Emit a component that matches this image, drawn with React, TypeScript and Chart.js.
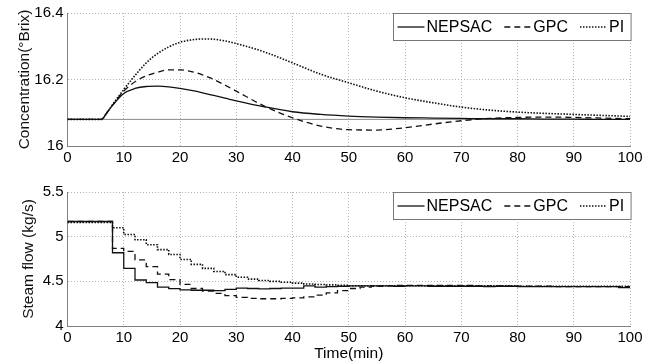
import React, { useEffect, useRef } from "react";
import { Chart, registerables } from "chart.js";

Chart.register(...registerables);

const FONT = '"Liberation Sans", Arial, Helvetica, sans-serif';

const seriesNames = ["NEPSAC", "GPC", "PI"];

// Top panel: concentration (°Brix) vs time (min)
const concTime = [0, 6, 7, 8, 10, 12, 14, 16, 18, 20, 22, 24, 26, 28, 30, 35, 40, 45, 50, 55, 60, 65, 70, 75, 80, 85, 90, 95, 100];
const nepsacConc = [16.08, 16.08, 16.1, 16.122, 16.158, 16.173, 16.179, 16.18, 16.178, 16.173, 16.167, 16.16, 16.152, 16.144, 16.136, 16.118, 16.103, 16.095, 16.09, 16.087, 16.085, 16.084, 16.083, 16.082, 16.082, 16.081, 16.081, 16.08, 16.08];
const gpcConc = [16.08, 16.08, 16.1, 16.123, 16.165, 16.193, 16.211, 16.222, 16.229, 16.229, 16.224, 16.214, 16.2, 16.183, 16.165, 16.12, 16.085, 16.06, 16.049, 16.048, 16.055, 16.066, 16.076, 16.083, 16.086, 16.087, 16.086, 16.084, 16.082];
const piConc = [16.08, 16.08, 16.1, 16.124, 16.17, 16.212, 16.25, 16.278, 16.298, 16.312, 16.319, 16.322, 16.321, 16.316, 16.308, 16.283, 16.25, 16.216, 16.19, 16.165, 16.145, 16.13, 16.117, 16.108, 16.102, 16.098, 16.095, 16.092, 16.089];
const setpointTime = [0, 100];
const setpointConc = [16.08, 16.08];

// Bottom panel: steam flow (kg/s) vs time (min), sampled every 2 min
const flowTime = [0, 2, 4, 6, 8, 10, 12, 14, 16, 18, 20, 22, 24, 26, 28, 30, 32, 34, 36, 38, 40, 42, 44, 46, 48, 50, 52, 54, 56, 58, 60, 62, 64, 66, 68, 70, 72, 74, 76, 78, 80, 82, 84, 86, 88, 90, 92, 94, 96, 98, 100];
const nepsacFlow = [5.17, 5.17, 5.17, 5.17, 4.82, 4.645, 4.515, 4.485, 4.435, 4.418, 4.405, 4.4, 4.4, 4.395, 4.41, 4.425, 4.42, 4.415, 4.42, 4.425, 4.425, 4.45, 4.435, 4.44, 4.445, 4.45, 4.45, 4.45, 4.45, 4.445, 4.45, 4.45, 4.445, 4.445, 4.445, 4.445, 4.445, 4.44, 4.445, 4.445, 4.44, 4.44, 4.44, 4.44, 4.44, 4.44, 4.44, 4.44, 4.44, 4.43, 4.43];
const gpcFlow = [5.17, 5.17, 5.17, 5.17, 4.87, 4.835, 4.74, 4.665, 4.58, 4.52, 4.465, 4.42, 4.39, 4.365, 4.34, 4.32, 4.31, 4.305, 4.305, 4.31, 4.315, 4.325, 4.345, 4.37, 4.395, 4.42, 4.435, 4.445, 4.45, 4.455, 4.455, 4.455, 4.455, 4.455, 4.455, 4.455, 4.45, 4.45, 4.45, 4.445, 4.445, 4.445, 4.445, 4.44, 4.44, 4.44, 4.44, 4.44, 4.44, 4.44, 4.44];
const piFlow = [5.16, 5.16, 5.16, 5.16, 5.1, 5.025, 4.965, 4.91, 4.855, 4.8, 4.745, 4.69, 4.645, 4.61, 4.575, 4.545, 4.525, 4.51, 4.5, 4.49, 4.48, 4.47, 4.465, 4.46, 4.455, 4.45, 4.45, 4.45, 4.45, 4.45, 4.45, 4.45, 4.45, 4.45, 4.45, 4.45, 4.45, 4.45, 4.45, 4.45, 4.445, 4.445, 4.445, 4.445, 4.445, 4.445, 4.445, 4.445, 4.445, 4.445, 4.445];

const xTicksMin = 0;
const xTicksMax = 100;
const xTickStep = 10;
const concTicks = { min: 16, max: 16.4, step: 0.2 };
const flowTicks = { min: 4, max: 5.5, step: 0.5 };

const LINE_COLOR = "#111111";
const styles = [
  { borderDash: [] as number[], borderWidth: 1.3 },
  { borderDash: [6, 4], borderWidth: 1.3 },
  { borderDash: [1.5, 1.5], borderWidth: 1.6 },
];

const toPoints = (xs: number[], ys: number[]) => xs.map((x, i) => ({ x, y: ys[i] }));

const boxedLegend = {
  id: "boxedLegend",
  afterDraw(chart: any) {
    const { ctx, chartArea } = chart;
    const ds = chart.data.datasets.filter((d: any) => seriesNames.includes(d.label));
    ctx.save();
    ctx.font = `16px ${FONT}`;
    const lineLen = 27, gapLT = 2, gapItem = 12, padL = 4, padR = 7, h = 27;
    const widths = ds.map((d: any) => ctx.measureText(d.label).width);
    let total = padL + padR + gapItem * (ds.length - 1);
    widths.forEach((w: number) => (total += lineLen + gapLT + w));
    const x1 = Math.round(chartArea.right + 1 - total) + 0.5;
    const y1 = Math.round(chartArea.top) + 0.5;
    ctx.fillStyle = "#ffffff";
    ctx.fillRect(x1, y1, total, h);
    ctx.strokeStyle = "#777777";
    ctx.lineWidth = 1;
    ctx.setLineDash([]);
    ctx.strokeRect(x1, y1, total, h);
    let x = x1 + padL;
    const yc = y1 + h / 2;
    ds.forEach((d: any, i: number) => {
      ctx.save();
      ctx.strokeStyle = d.borderColor;
      ctx.lineWidth = d.borderWidth;
      ctx.setLineDash(d.borderDash || []);
      ctx.beginPath();
      ctx.moveTo(x, yc);
      ctx.lineTo(x + lineLen, yc);
      ctx.stroke();
      ctx.restore();
      x += lineLen + gapLT;
      ctx.fillStyle = "#000000";
      ctx.textBaseline = "middle";
      ctx.textAlign = "left";
      ctx.fillText(d.label, x, yc + 1);
      x += widths[i] + gapItem;
    });
    ctx.restore();
  },
};

function fmt(v: number) {
  return String(Math.round(v * 10) / 10);
}

function makeOptions(opts: {
  yMin: number; yMax: number; yStep: number; yTitle: string; xTitle?: string;
  padTop: number; xHeight: number; titlePad: number;
}) {
  const grid = { color: "#b4b4b4", lineWidth: 1, drawTicks: false };
  const border = { display: true, color: "#808080", width: 1, dash: [1, 2] };
  return {
    animation: false as const,
    responsive: false,
    maintainAspectRatio: false,
    layout: { padding: { top: opts.padTop, right: 23, left: 0, bottom: 0 } },
    plugins: { legend: { display: false }, tooltip: { enabled: false } },
    elements: { point: { radius: 0 } },
    scales: {
      x: {
        type: "linear" as const,
        min: xTicksMin,
        max: xTicksMax,
        ticks: { stepSize: xTickStep, font: { family: FONT, size: 15 }, color: "#000", padding: 3, maxRotation: 0 },
        grid,
        border,
        title: opts.xTitle
          ? { display: true, text: opts.xTitle, font: { family: FONT, size: 15.5, lineHeight: 1.1 }, color: "#000", padding: { top: 0, bottom: 0 } }
          : { display: false },
        afterFit: (s: any) => { s.height = opts.xHeight; },
      },
      y: {
        type: "linear" as const,
        min: opts.yMin,
        max: opts.yMax,
        ticks: { stepSize: opts.yStep, font: { family: FONT, size: 15 }, color: "#000", padding: 4, callback: (v: any) => fmt(Number(v)) },
        grid,
        border,
        title: { display: true, text: opts.yTitle, font: { family: FONT, size: 15.5, lineHeight: 1.2 }, color: "#111", padding: { top: opts.titlePad, bottom: 0 } },
        afterFit: (s: any) => { s.width = 67.5; },
      },
    },
  };
}

export default function App() {
  const topRef = useRef<HTMLCanvasElement | null>(null);
  const botRef = useRef<HTMLCanvasElement | null>(null);

  useEffect(() => {
    const concSeries = [nepsacConc, gpcConc, piConc];
    const flowSeries = [nepsacFlow, gpcFlow, piFlow];

    const top = new Chart(topRef.current as HTMLCanvasElement, {
      type: "line",
      data: {
        datasets: [
          ...seriesNames.map((name, i) => ({
            label: name,
            data: toPoints(concTime, concSeries[i]),
            borderColor: LINE_COLOR,
            borderWidth: styles[i].borderWidth,
            borderDash: styles[i].borderDash,
            cubicInterpolationMode: "monotone" as const,
            pointRadius: 0,
            fill: false,
          })),
          {
            label: "setpoint",
            data: toPoints(setpointTime, setpointConc),
            borderColor: "#8a8a8a",
            borderWidth: 1,
            pointRadius: 0,
            fill: false,
          },
        ],
      },
      options: makeOptions({ yMin: concTicks.min, yMax: concTicks.max, yStep: concTicks.step, yTitle: "Concentration(°Brix)", padTop: 13, xHeight: 26, titlePad: 15 }) as any,
      plugins: [boxedLegend],
    });

    const bot = new Chart(botRef.current as HTMLCanvasElement, {
      type: "line",
      data: {
        datasets: seriesNames.map((name, i) => ({
          label: name,
          data: toPoints(flowTime, flowSeries[i]),
          borderColor: LINE_COLOR,
          borderWidth: styles[i].borderWidth,
          borderDash: styles[i].borderDash,
          stepped: "before" as const,
          pointRadius: 0,
          fill: false,
        })),
      },
      options: makeOptions({ yMin: flowTicks.min, yMax: flowTicks.max, yStep: flowTicks.step, yTitle: "Steam flow (kg/s)", xTitle: "Time(min)", padTop: 20, xHeight: 36, titlePad: 19 }) as any,
      plugins: [boxedLegend],
    });

    return () => {
      top.destroy();
      bot.destroy();
    };
  }, []);

  return (
    <div style={{ position: "absolute", left: 0, top: 0, width: 653, height: 362, background: "#fff", overflow: "hidden" }}>
      <canvas ref={topRef} width={653} height={172} style={{ position: "absolute", left: 0, top: 0, width: 653, height: 172 }} />
      <canvas ref={botRef} width={653} height={190} style={{ position: "absolute", left: 0, top: 172, width: 653, height: 190 }} />
    </div>
  );
}
